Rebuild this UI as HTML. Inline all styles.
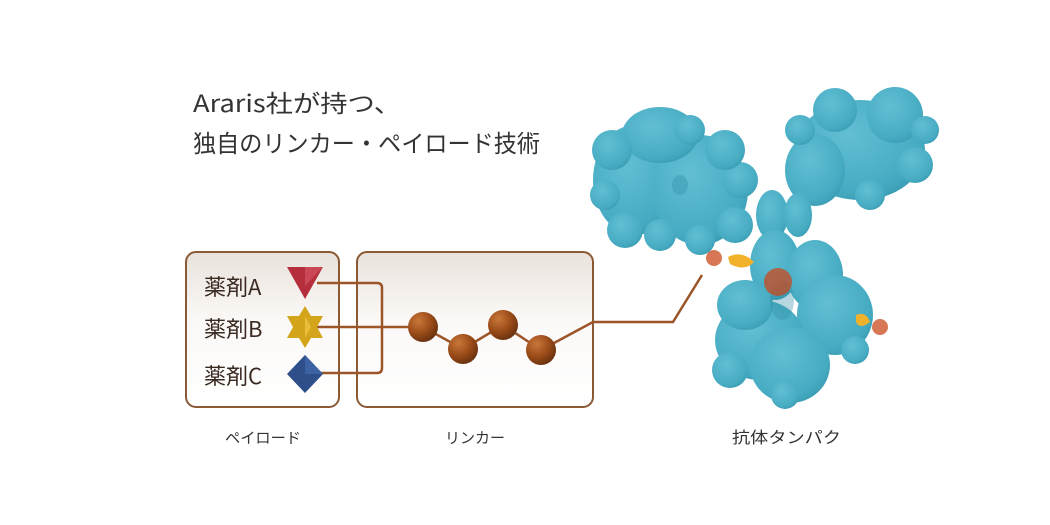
<!DOCTYPE html>
<html><head><meta charset="utf-8"><style>
html,body{margin:0;padding:0;background:#fff;}
svg{display:block;}
text{font-family:"Noto Sans CJK JP","Liberation Sans",sans-serif;fill:#333;}
</style></head><body>
<svg width="1050" height="525" viewBox="0 0 1050 525" xmlns="http://www.w3.org/2000/svg">
<defs>
<linearGradient id="bx" x1="0" y1="0" x2="0" y2="1">
<stop offset="0" stop-color="#e9e2dc"/><stop offset="0.45" stop-color="#fbf9f7"/><stop offset="1" stop-color="#fff"/>
</linearGradient>
<radialGradient id="ball" cx="0.35" cy="0.3" r="0.7">
<stop offset="0" stop-color="#c9773a"/><stop offset="0.6" stop-color="#9b4c18"/><stop offset="1" stop-color="#6e3410"/>
</radialGradient>
<radialGradient id="ab" cx="0.4" cy="0.35" r="0.75">
<stop offset="0" stop-color="#62bfd3"/><stop offset="0.75" stop-color="#46abc2"/><stop offset="1" stop-color="#3596ad"/>
</radialGradient>
</defs>

<text x="193" y="112" font-size="24" textLength="208" lengthAdjust="spacingAndGlyphs">Araris社が持つ、</text>
<text x="193" y="152" font-size="24" textLength="347" lengthAdjust="spacingAndGlyphs">独自のリンカー・ペイロード技術</text>

<rect x="186" y="252" width="153" height="155" rx="10" fill="url(#bx)" stroke="#8b5a34" stroke-width="2"/>
<rect x="357" y="252" width="236" height="155" rx="10" fill="url(#bx)" stroke="#8b5a34" stroke-width="2"/>

<text x="204" y="295" font-size="22" style="fill:#3a2a22">薬剤A</text>
<text x="204" y="337" font-size="22" style="fill:#3a2a22">薬剤B</text>
<text x="204" y="384" font-size="22" style="fill:#3a2a22">薬剤C</text>

<g fill="none" stroke="#9b5528" stroke-width="2.5">
<path d="M317 283 H377 Q382 283 382 288 V368 Q382 373 377 373 H317"/>
<path d="M317 327 H423 L463 349 L503 325 L541 350 L593 322 H673 L702 275"/>
</g>

<polygon points="287,267 323,267 305,299" fill="#b52e3c"/>
<polygon points="305,267 323,267 305,286" fill="#c94756"/>
<polygon points="305,306 311,316 323,316 317,327 323,338 311,338 305,348 299,338 287,338 293,327 287,316 299,316" fill="#d4a41a"/>
<polygon points="305,316 311,327 305,338" fill="#e8bd3a"/>
<polygon points="305,355 323,374 305,393 287,374" fill="#2f4f8a"/>
<polygon points="305,355 323,374 305,374" fill="#3d62a4"/>

<circle cx="423" cy="327" r="15" fill="url(#ball)"/>
<circle cx="463" cy="349" r="15" fill="url(#ball)"/>
<circle cx="503" cy="325" r="15" fill="url(#ball)"/>
<circle cx="541" cy="350" r="15" fill="url(#ball)"/>

<!-- antibody -->
<g fill="url(#ab)">
<!-- left Fab -->
<ellipse cx="635" cy="180" rx="42" ry="55"/>
<ellipse cx="700" cy="190" rx="48" ry="55"/>
<ellipse cx="660" cy="135" rx="38" ry="28"/>
<circle cx="612" cy="150" r="20"/><circle cx="605" cy="195" r="15"/><circle cx="625" cy="230" r="18"/>
<circle cx="660" cy="235" r="16"/><circle cx="700" cy="240" r="15"/><circle cx="735" cy="225" r="18"/>
<circle cx="740" cy="180" r="18"/><circle cx="725" cy="150" r="20"/><circle cx="690" cy="130" r="15"/>
<!-- right Fab -->
<ellipse cx="860" cy="150" rx="65" ry="50"/>
<ellipse cx="815" cy="170" rx="30" ry="36"/>
<circle cx="895" cy="115" r="28"/><circle cx="835" cy="110" r="22"/><circle cx="915" cy="165" r="18"/>
<circle cx="870" cy="195" r="15"/><circle cx="800" cy="130" r="15"/><circle cx="925" cy="130" r="14"/>
<!-- hinge -->
<ellipse cx="772" cy="215" rx="16" ry="25"/>
<ellipse cx="798" cy="215" rx="14" ry="22"/>
<!-- Fc -->
<ellipse cx="775" cy="265" rx="25" ry="35"/>
<ellipse cx="815" cy="275" rx="28" ry="35"/>
<ellipse cx="835" cy="315" rx="38" ry="40"/>
<ellipse cx="760" cy="340" rx="45" ry="40"/>
<ellipse cx="790" cy="365" rx="40" ry="38"/>
<ellipse cx="745" cy="305" rx="28" ry="25"/>
<circle cx="730" cy="370" r="18"/><circle cx="785" cy="395" r="14"/><circle cx="855" cy="350" r="14"/>
</g>
<g fill="#2f8ca3" opacity="0.35">
<ellipse cx="680" cy="185" rx="8" ry="10"/>
<ellipse cx="782" cy="300" rx="12" ry="20"/>
</g>
<path d="M728 257 Q742 250 754 262 Q745 272 730 264 Z" fill="#f2b12a"/>
<path d="M856 315 Q866 311 870 322 Q860 330 856 322 Z" fill="#f2b12a"/>
<g fill="#c94a1e">
<circle cx="714" cy="258" r="8" opacity="0.75"/>
<circle cx="778" cy="282" r="14" opacity="0.75"/>
<circle cx="880" cy="327" r="8" opacity="0.75"/>
</g>

<text x="225" y="443" font-size="15" textLength="76" lengthAdjust="spacingAndGlyphs">ペイロード</text>
<text x="445" y="443" font-size="15" textLength="60" lengthAdjust="spacingAndGlyphs">リンカー</text>
<text x="732" y="443" font-size="16" textLength="109" lengthAdjust="spacingAndGlyphs">抗体タンパク</text>
</svg>
</body></html>
